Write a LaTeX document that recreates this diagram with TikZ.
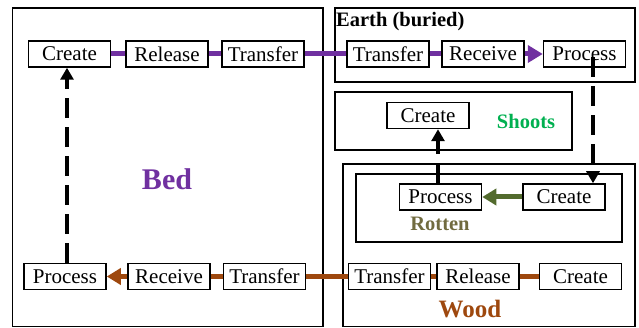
\documentclass[tikz,border=0pt]{standalone}
\usepackage{fontspec}
\setmainfont{Liberation Serif}
\usetikzlibrary{arrows.meta,calc}
\definecolor{bedc}{HTML}{7030A0}
\definecolor{woodc}{HTML}{9E480E}
\definecolor{rotc}{HTML}{536B2E}
\definecolor{rotl}{HTML}{716B3F}
\definecolor{shootc}{HTML}{00B050}
\tikzset{
  stepbox/.style={draw, line width=1.5pt, fill=white, minimum width=82pt, minimum height=26pt, inner sep=0pt, font=\fontsize{21}{25}\selectfont},
  area/.style={draw, line width=1.3pt},
  lbl/.style={font=\fontsize{20.5}{24}\selectfont\bfseries, inner sep=0pt},
  flowp/.style={line width=5pt, bedc},
  floww/.style={line width=5pt, woodc},
  flowg/.style={line width=5pt, rotc},
  dsh/.style={line width=4pt, dash pattern=on 20pt off 9pt, -{Triangle[length=12pt,width=13pt]}}
}
\begin{document}
\begin{tikzpicture}[x=1pt,y=-1pt]
\useasboundingbox (0,0) rectangle (639,328);
% containers
\draw[area] (12.5,8) rectangle (323,326.5);
\draw[area] (335,8) rectangle (635,82);
\draw[area] (335,92) rectangle (572,150);
\draw[area] (343,164) rectangle (635,326.5);
\draw[area] (356,174) rectangle (622,242);
% labels
\node[lbl, anchor=west] (earthl) at (336,22) {Earth (buried)};
\node[lbl, text=shootc] (shootl) at (526,121) {Shoots};
\node[lbl, text=rotl] (rotl) at (440,224) {Rotten};
\node[lbl, text=woodc, font=\fontsize{25}{30}\selectfont\bfseries] (woodl) at (470,309) {Wood};
\node[lbl, text=bedc, font=\fontsize{30}{36}\selectfont\bfseries] (bedl) at (167,179) {Bed};
% bed top row
\node[stepbox] (bc) at (69.5,54) {Create};
\node[stepbox] (br) at (167,54) {Release};
\node[stepbox] (bt) at (263,54) {Transfer};
% earth row
\node[stepbox] (et) at (388,54) {Transfer};
\node[stepbox] (er) at (483,54) {Receive};
\node[stepbox] (ep) at (584.5,54) {Process};
% shoots
\node[stepbox] (sc) at (428,115.5) {Create};
% rotten
\node[stepbox] (rp) at (440.5,197) {Process};
\node[stepbox] (rc) at (564,197) {Create};
% wood row
\node[stepbox] (wt) at (389.5,276.5) {Transfer};
\node[stepbox] (wr) at (478,276.5) {Release};
\node[stepbox] (wc) at (580.5,276.5) {Create};
% bed bottom row
\node[stepbox] (bp) at (65,276.5) {Process};
\node[stepbox] (bv) at (169,276.5) {Receive};
\node[stepbox] (bx) at (264.5,276.5) {Transfer};
% purple flow
\draw[flowp] (bc) -- (br);
\draw[flowp] (br) -- (bt);
\draw[flowp] (bt) -- (et);
\draw[flowp] (et) -- (er);
\draw[flowp, -{Triangle[length=15pt,width=17pt]}] (er) -- (ep);
% brown flow
\draw[floww] (wc) -- (wr);
\draw[floww] (wr) -- (wt);
\draw[floww] (wt) -- (bx);
\draw[floww] (bx) -- (bv);
\draw[floww, -{Triangle[length=14pt,width=16pt]}] (bv) -- (bp);
% green flow
\draw[flowg, -{Triangle[length=14pt,width=16pt]}] (rc) -- (rp);
% dashed transitions
\draw[dsh] ([xshift=2pt]bp.north) -- ([xshift=-2.5pt]bc.south);
\draw[dsh] ([xshift=8.5pt,yshift=-3.5pt]ep.center) -- ([xshift=29pt]rc.north);
\draw[dsh] ([xshift=-2.5pt]rp.north) -- ([xshift=10pt]sc.south);
\end{tikzpicture}
\end{document}
